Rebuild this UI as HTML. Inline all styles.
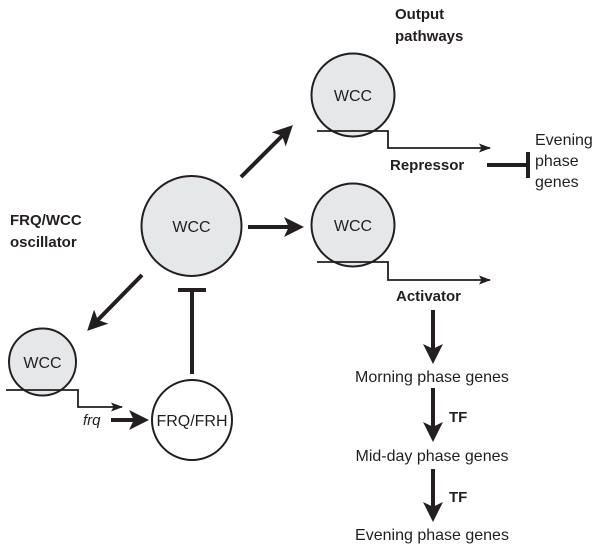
<!DOCTYPE html>
<html><head><meta charset="utf-8"><style>
html,body{margin:0;padding:0;background:#fff;}
svg{display:block;}
text{font-family:"Liberation Sans",Arial,sans-serif;fill:#231f20;}
.b{font-weight:bold;font-size:15px;}
.n{font-size:16px;}
</style></head><body>
<svg width="601" height="551" viewBox="0 0 601 551" xmlns="http://www.w3.org/2000/svg">
<defs>
<marker id="big" markerWidth="5" markerHeight="5" refX="4" refY="2.5" orient="auto" markerUnits="strokeWidth"><path d="M0,0 L5,2.5 L0,5 L1.2,2.5 z" fill="#231f20"/></marker>
<marker id="sm" markerWidth="12" markerHeight="9" refX="11" refY="4.5" orient="auto" markerUnits="userSpaceOnUse"><path d="M0,0 L12,4.5 L0,9 L2.5,4.5 z" fill="#231f20"/></marker>
</defs>
<g stroke="#231f20" fill="none">
<circle cx="353" cy="95" r="41.5" fill="#e6e7e8" stroke-width="2"/>
<circle cx="353" cy="225" r="41.5" fill="#e6e7e8" stroke-width="2"/>
<circle cx="191.5" cy="226" r="50" fill="#e6e7e8" stroke-width="2"/>
<circle cx="42.5" cy="362" r="33.5" fill="#e6e7e8" stroke-width="2"/>
<circle cx="192" cy="420" r="40" fill="#fff" stroke-width="2"/>
<path d="M317,131 H388 V148 H490" stroke-width="1.8" marker-end="url(#sm)"/>
<path d="M317,262 H388 V280 H490" stroke-width="1.8" marker-end="url(#sm)"/>
<path d="M6,390 H78 V407 H122" stroke-width="1.8" marker-end="url(#sm)"/>
<path d="M241,177 L290,128" stroke-width="4" marker-end="url(#big)"/>
<path d="M248,227 L300,227" stroke-width="4" marker-end="url(#big)"/>
<path d="M142,275 L90,328" stroke-width="4" marker-end="url(#big)"/>
<path d="M111,420 L145,420" stroke-width="4" marker-end="url(#big)"/>
<path d="M433,310 L433,360" stroke-width="4" marker-end="url(#big)"/>
<path d="M433,388 L433,438" stroke-width="4" marker-end="url(#big)"/>
<path d="M433,469 L433,518" stroke-width="4" marker-end="url(#big)"/>
<path d="M192,374 V290 M178,290 H206" stroke-width="4"/>
<path d="M487,165 H528 M528,152 V178" stroke-width="4"/>
</g>
<text class="b" x="395" y="19">Output</text>
<text class="b" x="395" y="41">pathways</text>
<text class="b" x="10" y="225">FRQ/WCC</text>
<text class="b" x="10" y="247">oscillator</text>
<text class="n" x="353" y="101" text-anchor="middle">WCC</text>
<text class="n" x="353" y="231" text-anchor="middle">WCC</text>
<text class="n" x="191.5" y="232" text-anchor="middle">WCC</text>
<text class="n" x="42.5" y="368" text-anchor="middle">WCC</text>
<text class="n" x="192" y="426" text-anchor="middle">FRQ/FRH</text>
<text x="83" y="425" font-size="15" font-style="italic">frq</text>
<text class="b" x="390" y="170">Repressor</text>
<text class="b" x="396" y="301">Activator</text>
<text class="n" x="535" y="145">Evening</text>
<text class="n" x="535" y="166">phase</text>
<text class="n" x="535" y="187">genes</text>
<text class="n" x="432" y="382" text-anchor="middle" font-size="16.5">Morning phase genes</text>
<text class="n" x="432" y="461" text-anchor="middle" font-size="16.5">Mid-day phase genes</text>
<text class="n" x="432" y="540" text-anchor="middle" font-size="16.5">Evening phase genes</text>
<text class="b" x="449" y="422">TF</text>
<text class="b" x="449" y="502">TF</text>
</svg>
</body></html>
